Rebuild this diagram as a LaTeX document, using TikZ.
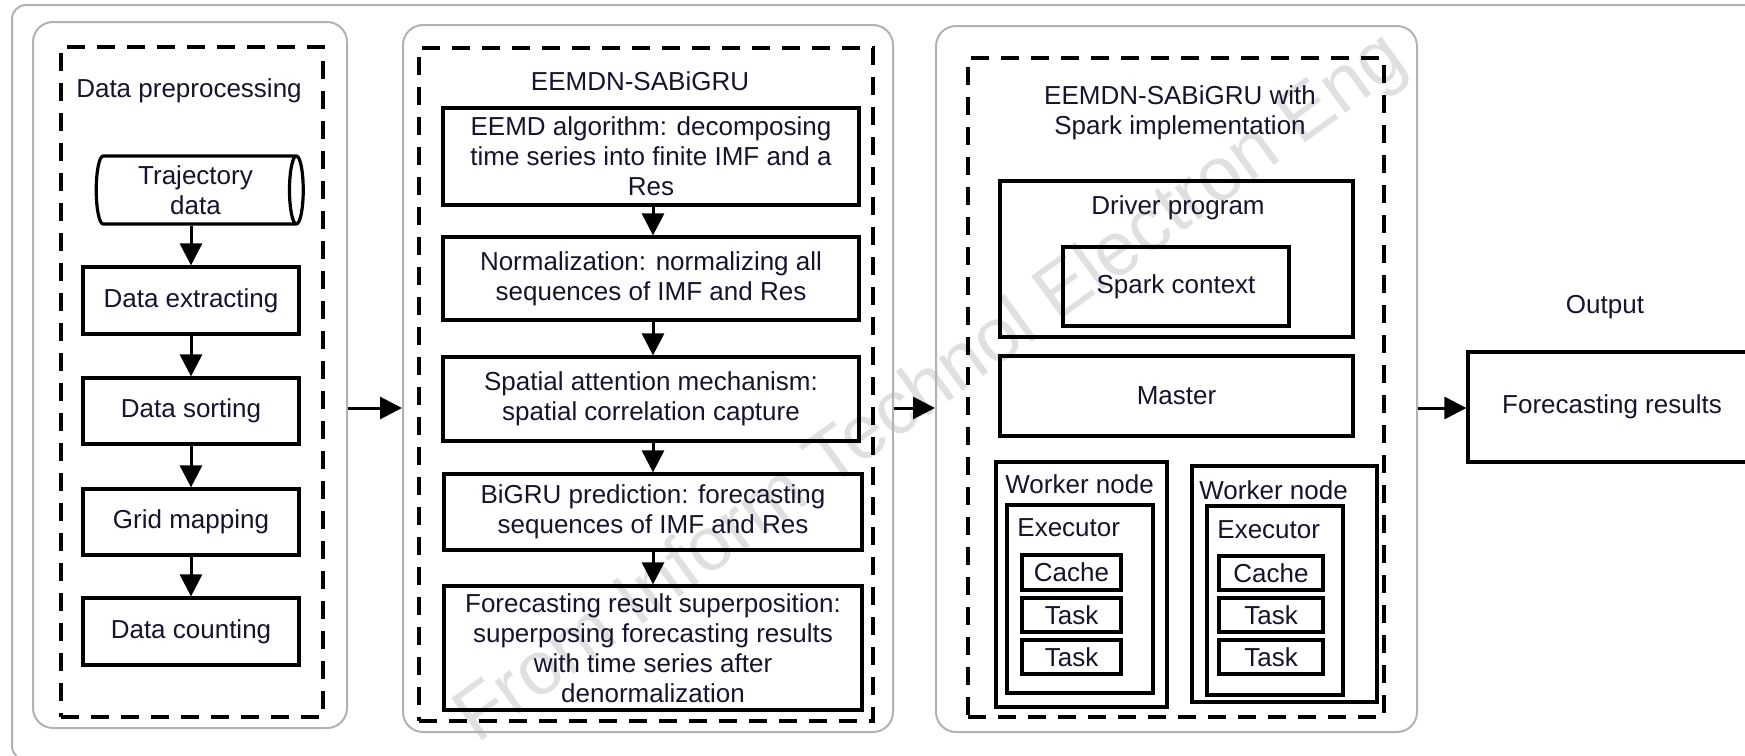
\documentclass[tikz,border=0pt]{standalone}
\usepackage{fontspec}
\setmainfont{Liberation Sans}
\usetikzlibrary{shapes.geometric,arrows.meta}
\definecolor{txt}{rgb}{0.08,0.08,0.18}
\definecolor{wm}{rgb}{0.88,0.88,0.88}
\begin{document}
\begin{tikzpicture}[x=0.5pt,y=-0.5pt,
  font=\fontsize{13}{15}\selectfont, text=txt,
  frame/.style={draw=gray!60, line width=1pt, rounded corners=7pt},
  panel/.style={draw=gray!60, line width=1pt, rounded corners=10pt, inner sep=0pt},
  dashbox/.style={draw=black, line width=1.9pt, dash pattern=on 9pt off 6pt, inner sep=0pt},
  box/.style={draw=black, line width=1.6pt, align=center, inner sep=1pt},
  lab/.style={inner sep=0pt, align=center},
  arr/.style={line width=1.5pt, -{Triangle[length=11pt,width=11pt]}},
]
\useasboundingbox (0,0) rectangle (1745,755);
\clip (0,0) rectangle (1745,755);

% watermark
\node[lab, text=wm, font=\fontsize{38}{40}\selectfont, rotate=36] (wmark) at (932,390) {From Inform Technol Electron Eng};

% outer frame
\draw[frame] (12,5) rectangle (1800,760);

% panels
\node[panel, minimum width=157pt, minimum height=353pt] (p1) at (190,375) {};
\node[panel, minimum width=245pt, minimum height=353.5pt] (p2) at (648,378.5) {};
\node[panel, minimum width=240.5pt, minimum height=353pt] (p3) at (1176.5,379) {};

% dashed boxes
\node[dashbox, minimum width=131pt, minimum height=335pt] (d1) at (192,382) {};
\node[dashbox, minimum width=227pt, minimum height=336.5pt] (d2) at (646,384.5) {};
\node[dashbox, minimum width=208pt, minimum height=329.5pt] (d3) at (1176,387.5) {};

% ---------- panel 1
\node[lab] (t1) at (189,91) {Data preprocessing};
\node[draw=black, line width=1.6pt, cylinder, shape aspect=0.28, minimum width=34pt, minimum height=103.5pt, align=center, inner sep=0pt] (traj) at (195.5,190) {Trajectory\\data};
\node[box, minimum width=108pt, minimum height=33.5pt] (ext) at (191,300.5) {Data extracting};
\node[box, minimum width=108pt, minimum height=33pt] (sort) at (191,411) {Data sorting};
\node[box, minimum width=108pt, minimum height=33pt] (grid) at (191,522) {Grid mapping};
\node[box, minimum width=108pt, minimum height=33.5pt] (cnt) at (191,631.5) {Data counting};
\draw[arr] (traj.south -| ext.north) -- (ext.north);
\draw[arr] (ext) -- (sort);
\draw[arr] (sort) -- (grid);
\draw[arr] (grid) -- (cnt);

% ---------- panel 2
\node[lab] (t2) at (640,81) {EEMDN-SABiGRU};
\node[box, minimum width=208pt, minimum height=48.5pt] (ba) at (651,156.5) {EEMD algorithm: decomposing\\time series into finite IMF and a\\Res};
\node[box, minimum width=208pt, minimum height=41.5pt] (bb) at (651,278.5) {Normalization: normalizing all\\sequences of IMF and Res};
\node[box, minimum width=208pt, minimum height=42pt] (bc) at (651,399) {Spatial attention mechanism:\\spatial correlation capture};
\node[box, minimum width=209pt, minimum height=38pt] (bd) at (653,512) {BiGRU prediction: forecasting\\sequences of IMF and Res};
\node[box, minimum width=209pt, minimum height=62pt] (be) at (653,648) {Forecasting result superposition:\\superposing forecasting results\\with time series after\\denormalization};
\draw[arr] (ba.south -| bd.north) -- (bb.north -| bd.north);
\draw[arr] (bb.south -| bd.north) -- (bc.north -| bd.north);
\draw[arr] (bc.south -| bd.north) -- (bd.north);
\draw[arr] (bd) -- (be);

% ---------- panel 3
\node[lab] (t3) at (1180,113) {EEMDN-SABiGRU with\\Spark implementation};
\node[box, minimum width=176.5pt, minimum height=78pt] (drv) at (1176.5,259) {};
\node[lab] (drvl) at (1178,208) {Driver program};
\node[box, minimum width=113pt, minimum height=39.5pt] (sc) at (1176,286.5) {Spark context};
\node[box, minimum width=176.5pt, minimum height=40pt] (mst) at (1176.5,396) {Master};

\node[box, minimum width=85.5pt, minimum height=122.5pt] (w1) at (1081.5,584.5) {};
\node[lab, anchor=west] (w1l) at (1005,484) {Worker node};
\node[box, minimum width=73pt, minimum height=94pt] (e1) at (1080,599) {};
\node[lab, anchor=west] (e1l) at (1017,528) {Executor};
\node[box, minimum width=49.5pt, minimum height=17.5pt] (c1) at (1071.5,572.5) {Cache};
\node[box, minimum width=49.5pt, minimum height=17pt] (ta1) at (1071.5,615) {Task};
\node[box, minimum width=49.5pt, minimum height=17pt] (tb1) at (1071.5,657) {Task};

\node[box, minimum width=92.5pt, minimum height=118pt] (w2) at (1284.5,584) {};
\node[lab, anchor=west] (w2l) at (1199,490) {Worker node};
\node[box, minimum width=68pt, minimum height=94.5pt] (e2) at (1275,600.5) {};
\node[lab, anchor=west] (e2l) at (1217,530) {Executor};
\node[box, minimum width=52pt, minimum height=17pt] (c2) at (1271,573) {Cache};
\node[box, minimum width=52pt, minimum height=17pt] (ta2) at (1271,615) {Task};
\node[box, minimum width=52pt, minimum height=17pt] (tb2) at (1271,657) {Task};

% ---------- output
\node[lab] (outl) at (1605,307) {Output};
\node[box, minimum width=144pt, minimum height=55pt] (fr) at (1612,407) {Forecasting results};

% ---------- panel connectors
\coordinate (lv) at (0,408);
\draw[arr] (p1.east |- lv) -- (p2.west |- lv);
\draw[arr] (p2.east |- lv) -- (p3.west |- lv);
\draw[arr] (p3.east |- lv) -- (fr.west |- lv);
\end{tikzpicture}
\end{document}
